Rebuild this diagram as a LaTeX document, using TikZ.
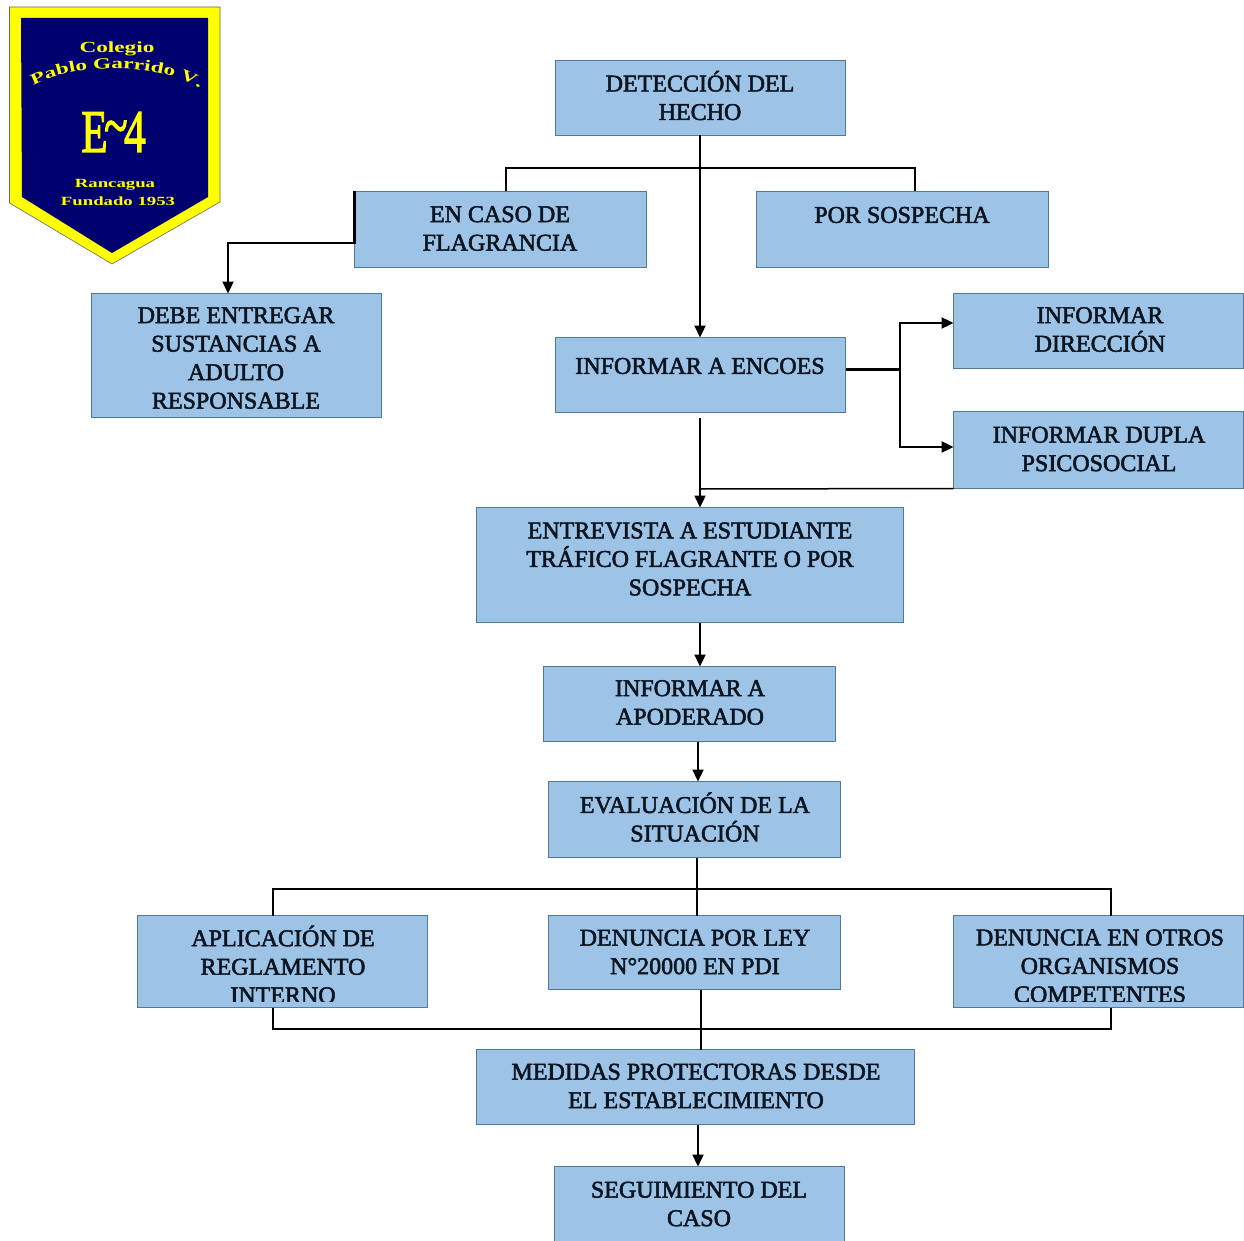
\documentclass[tikz,border=0pt]{standalone}
\usepackage{fontspec}
\setmainfont{Liberation Serif}[FakeBold=2.2]
\newfontfamily\crestfont{Liberation Serif Bold}[FakeStretch=1.5]
\usetikzlibrary{arrows.meta,decorations.text,calc}
\definecolor{boxfill}{HTML}{9DC3E6}
\definecolor{boxline}{HTML}{4F7A99}
\definecolor{ink}{HTML}{0C1420}
\definecolor{crestblue}{HTML}{00006E}
\definecolor{crestyellow}{HTML}{FFFF00}
\tikzset{
  flowbox/.style={fill=boxfill,draw=boxline,line width=1.2pt,inner sep=0pt,outer sep=0pt,anchor=north west},
  flowtext/.style={text=ink,font=\fontsize{24}{28.5}\selectfont,align=center,inner sep=0pt,anchor=center},
  thinline/.style={draw=black,line width=1.5pt},
  thickline/.style={draw=black,line width=3pt},
  arrowline/.style={draw=black,line width=2.3pt,-{Triangle[length=12pt,width=11pt]}},
  cresttext/.style={text=crestyellow,inner sep=0pt}
}
\begin{document}
\begin{tikzpicture}[x=1pt,y=-1pt]
\useasboundingbox (0,0) rectangle (1244,1241);
\fill[white] (0,0) rectangle (1244,1241);
% crest
\filldraw[fill=crestyellow,draw=black!60,line width=.6pt] (9.5,7) -- (220,7) -- (220,202) -- (112,264) -- (9.5,203) -- cycle;
\fill[crestblue] (21,18) -- (208,18) -- (208,197) -- (112,253) -- (22,197) -- cycle;
\node[cresttext,font=\crestfont\fontsize{15.5}{15.5}\selectfont] (colegio) at (117,48.5) {Colegio};
\path[decorate,decoration={text along path,text align=center,
  text={|\crestfont\fontsize{15.5}{15.5}\selectfont\color{crestyellow}|Pablo Garrido V.}}]
  (27,89) .. controls (70,62) and (160,60) .. (206,92);
\node[cresttext,font=\fontsize{48}{48}\selectfont] (e4) at (113.5,132) {\scalebox{.9}[1.26]{E\raisebox{.1em}{\kern-.08em\char`~\kern-.08em}4}};
\node[cresttext,font=\crestfont\fontsize{12.5}{12.5}\selectfont] (ranc) at (115,184.5) {Rancagua};
\node[cresttext,font=\crestfont\fontsize{12.5}{12.5}\selectfont] (fund) at (118,201) {Fundado 1953};
% boxes
\node[flowbox,minimum width=290pt,minimum height=75pt] (det) at (555.5,60.5) {};
\node[flowbox,minimum width=292pt,minimum height=76pt] (fla) at (354.5,191.5) {};
\node[flowbox,minimum width=292pt,minimum height=76pt] (sos) at (756.5,191.5) {};
\node[flowbox,minimum width=290pt,minimum height=124pt] (deb) at (91.5,293.5) {};
\node[flowbox,minimum width=290pt,minimum height=75pt] (enc) at (555.5,337.5) {};
\node[flowbox,minimum width=290pt,minimum height=75pt] (dir) at (953.5,293.5) {};
\node[flowbox,minimum width=290pt,minimum height=77pt] (dup) at (953.5,411.5) {};
\node[flowbox,minimum width=427pt,minimum height=115pt] (ent) at (476.5,507.5) {};
\node[flowbox,minimum width=292pt,minimum height=75pt] (apo) at (543.5,666.5) {};
\node[flowbox,minimum width=292pt,minimum height=76pt] (eva) at (548.5,781.5) {};
\node[flowbox,minimum width=290pt,minimum height=92pt] (apl) at (137.5,915.5) {};
\node[flowbox,minimum width=292pt,minimum height=74pt] (den) at (548.5,915.5) {};
\node[flowbox,minimum width=290pt,minimum height=92pt] (otr) at (953.5,915.5) {};
\node[flowbox,minimum width=438pt,minimum height=75pt] (med) at (476.5,1049.5) {};
\node[flowbox,minimum width=290pt,minimum height=77pt] (seg) at (554.5,1166.5) {};
% texts
\node[flowtext] (detT) at (700,95.5) {DETECCIÓN DEL\\HECHO};
\node[flowtext] (flaT) at (500,228.5) {EN CASO DE\\FLAGRANCIA};
\node[flowtext] (sosT) at (902,215) {POR SOSPECHA};
\node[flowtext] (debT) at (236,358) {DEBE ENTREGAR\\SUSTANCIAS A\\ADULTO\\RESPONSABLE};
\node[flowtext] (encT) at (700,366) {INFORMAR A ENCOES};
\node[flowtext] (dirT) at (1100,329.5) {INFORMAR\\DIRECCIÓN};
\node[flowtext] (dupT) at (1099,449) {INFORMAR DUPLA\\PSICOSOCIAL};
\node[flowtext] (entT) at (690,559) {ENTREVISTA A ESTUDIANTE\\TRÁFICO FLAGRANTE O POR\\SOSPECHA};
\node[flowtext] (apoT) at (690,702.5) {INFORMAR A\\APODERADO};
\node[flowtext] (evaT) at (695,817) {EVALUACIÓN DE LA\\SITUACIÓN};
\begin{scope}
\clip (138,916) rectangle (428,1001.5);
\node[flowtext] (aplT) at (283,964.5) {APLICACIÓN DE\\REGLAMENTO\\INTERNO};
\end{scope}
\node[flowtext] (denT) at (695,952) {DENUNCIA POR LEY\\N°20000 EN PDI};
\begin{scope}
\clip (954,916) rectangle (1244,1001.5);
\node[flowtext] (otrT) at (1100,966) {DENUNCIA EN OTROS\\ORGANISMOS\\COMPETENTES};
\end{scope}
\node[flowtext] (medT) at (696,1086) {MEDIDAS PROTECTORAS DESDE\\EL ESTABLECIMIENTO};
\node[flowtext] (segT) at (699,1204) {SEGUIMIENTO DEL\\CASO};
% junctions
\coordinate (j1) at (700,168);
\coordinate (j2) at (506,168);
\coordinate (j3) at (915,168);
\coordinate (j4) at (228,243);
\coordinate (j5) at (900,369);
\coordinate (j6) at (900,323);
\coordinate (j7) at (900,447);
\coordinate (j8) at (700,418);
\coordinate (j9) at (700,489);
\coordinate (j10) at (698,762);
\coordinate (j11) at (697,889);
\coordinate (j12) at (273,889);
\coordinate (j13) at (1111,889);
\coordinate (j14) at (273,1029);
\coordinate (j15) at (1111,1029);
\coordinate (j16) at (701,1029);
\coordinate (j17) at (698,1140);
% connectors
\draw[arrowline] (det.south -| j1) -- (enc.north -| j1);
\draw[thinline] (fla.north -| j2) -- (j2) -- (j3) -- (sos.north -| j3);
\draw[arrowline] (fla.north west) -- (fla.west |- j4) -- (j4) -- (deb.north -| j4);
\draw[thickline] (enc.east |- j5) -- (j5);
\draw[arrowline] (j5) -- (j6) -- (dir.west |- j6);
\draw[arrowline] (j5) -- (j7) -- (dup.west |- j7);
\draw[arrowline] (j8) -- (ent.north -| j8);
\draw[thinline] (dup.south west) -- (j9);
\draw[arrowline] (ent.south -| j8) -- (apo.north -| j8);
\draw[arrowline] (apo.south -| j10) -- (eva.north -| j10);
\draw[thinline] (eva.south -| j11) -- (den.north -| j11);
\draw[thinline] (apl.north -| j12) -- (j12) -- (j13) -- (otr.north -| j13);
\draw[thinline] (apl.south -| j14) -- (j14) -- (j15) -- (otr.south -| j15);
\draw[thinline] (den.south -| j16) -- (med.north -| j16);
\draw[arrowline] (med.south -| j17) -- (seg.north -| j17);
\end{tikzpicture}
\end{document}
